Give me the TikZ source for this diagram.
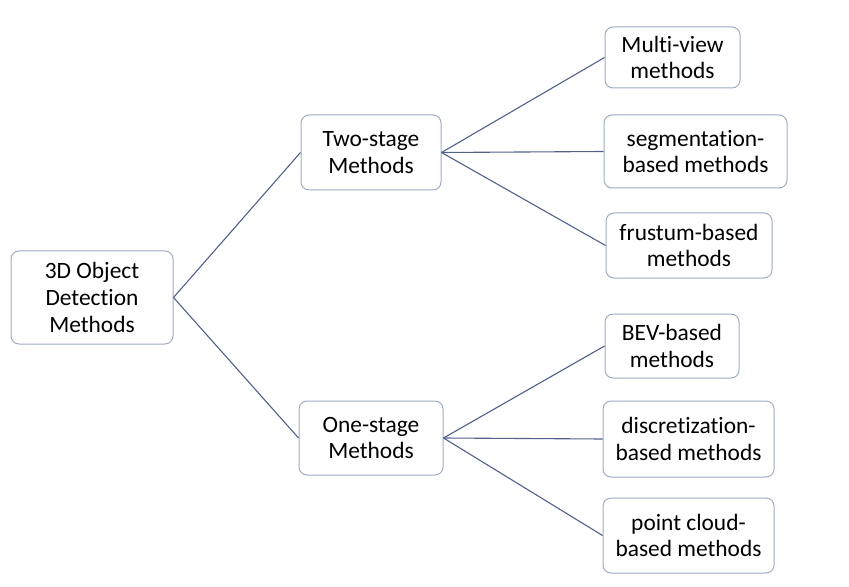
\documentclass[tikz,border=0pt]{standalone}
\usepackage{fontspec}
\setmainfont{Carlito}[Ligatures={NoCommon}]
\usepackage{xcolor}
\usepackage{tikz}
\definecolor{boxline}{RGB}{160,172,196}
\definecolor{linkline}{RGB}{84,96,140}
\begin{document}
\begin{tikzpicture}[x=0.5pt, y=-0.5pt,
    meth/.style={draw=boxline, line width=0.5pt, rounded corners=4pt,
      align=center, inner sep=0pt, text=black,
      font=\fontsize{11.7}{13.4}\selectfont},
    link/.style={draw=linkline, line width=0.55pt}]
    \useasboundingbox (0, 0) rectangle (849, 587);

    \coordinate (Det) at (92, 297.5);
    \coordinate (Two) at (371, 152.5);
    \coordinate (One) at (371, 438);

    \coordinate (Mv) at (672.5, 57.5);
    \coordinate (Seg) at (695.5, 151.5);
    \coordinate (Fru) at (689, 245.5);

    \coordinate (Bev) at (672, 346);
    \coordinate (Dis) at (688.5, 439);
    \coordinate (Pc) at (688.5, 535.5);

    \node[meth, minimum width=81pt, minimum height=46.5pt] (det) at (Det) {3D Object\\Detection\\Methods};
    \node[meth, minimum width=70pt, minimum height=37.5pt] (two) at (Two) {Two-stage\\Methods};
    \node[meth, minimum width=72pt, minimum height=37pt] (one) at (One) {One-stage\\Methods};

    \node[meth, minimum width=67.5pt, minimum height=30.5pt] (mv) at (Mv) {Multi-view\\methods};
    \node[meth, minimum width=91.5pt, minimum height=36.5pt] (seg) at (Seg) {segmentation-\\based methods};
    \node[meth, minimum width=83pt, minimum height=32.5pt] (fru) at (Fru) {frustum-based\\methods};

    \node[meth, minimum width=67pt, minimum height=32pt] (bev) at (Bev) {BEV-based\\methods};
    \node[meth, minimum width=85.5pt, minimum height=38pt] (dis) at (Dis) {discretization-\\based methods};
    \node[meth, minimum width=85.5pt, minimum height=37.5pt] (pc) at (Pc) {point cloud-\\based methods};

    \draw[link] (det.east) -- (two.west);
    \draw[link] (det.east) -- (one.west);

    \draw[link] (two.east) -- (mv.west);
    \draw[link] (two.east) -- (seg.west);
    \draw[link] (two.east) -- (fru.west);

    \draw[link] (one.east) -- (bev.west);
    \draw[link] (one.east) -- (dis.west);
    \draw[link] (one.east) -- (pc.west);
  \end{tikzpicture}
\end{document}
